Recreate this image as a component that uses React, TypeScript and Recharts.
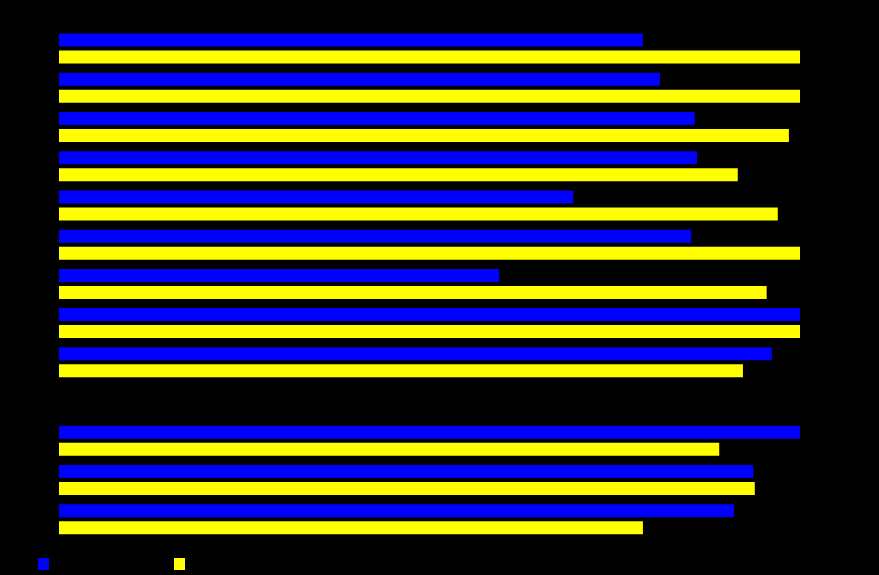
import { BarChart, Bar, XAxis, YAxis, Legend } from "recharts";

const categories = ["A", "B", "C", "D", "E", "F", "G", "H", "I", "J", "K", "L", "M"];
const seriesA = [78.8, 81.1, 85.8, 86.1, 69.4, 85.3, 59.4, 100, 96.2, null, 100, 93.7, 91.1];
const seriesB = [100, 100, 98.5, 91.6, 97.0, 100, 95.5, 100, 92.3, null, 89.1, 93.9, 78.8];
const seriesNames = ["Series 1", "Series 2"];

const data = categories.map((name, i) => ({ name, a: seriesA[i], b: seriesB[i] }));

function SimpleLegend({ payload }: any) {
    return (
        <div style={{ display: "flex", alignItems: "center", height: 12 }}>
            {(payload || []).map((p: any, i: number) => (
                <div key={i} style={{ display: "flex", alignItems: "center", width: 136, height: 12 }}>
                    <span style={{ width: 11, height: 12, background: p.color, display: "inline-block", marginRight: 6 }} />
                    <span style={{ color: "#000", fontSize: 10, lineHeight: "12px" }}>{p.value}</span>
                </div>
            ))}
        </div>
    );
}

export default function App() {
    return (
        <div style={{ position: "absolute", left: 0, top: 0, width: 879, height: 575, background: "#000", fontFamily: "Arial, sans-serif" }}>
            <BarChart
                layout="vertical"
                width={879}
                height={575}
                data={data}
                margin={{ top: 28.5, right: 79, left: 0, bottom: 24.5 }}
                barSize={13}
                barGap={4}
            >
                <XAxis type="number" domain={[0, 100]} hide />
                <YAxis type="category" dataKey="name" width={59} axisLine={false} tickLine={false} tick={{ fill: "#000", fontSize: 12 }} />
                <Legend
                    content={<SimpleLegend />}
                    wrapperStyle={{ position: "absolute", left: 38, top: 558, width: 400, height: 12 }}
                />
                <Bar dataKey="a" name={seriesNames[0]} fill="#0000ff" isAnimationActive={false} />
                <Bar dataKey="b" name={seriesNames[1]} fill="#ffff00" isAnimationActive={false} />
            </BarChart>
        </div>
    );
}
